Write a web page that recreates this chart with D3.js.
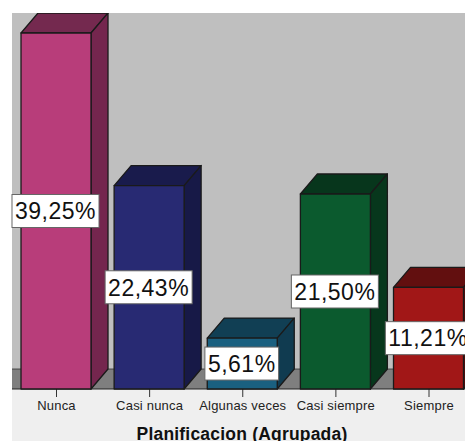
<!DOCTYPE html>
<html><head><meta charset="utf-8">
<script src="https://cdnjs.cloudflare.com/ajax/libs/d3/7.8.5/d3.min.js"></script>
<style>html,body{margin:0;padding:0;background:#fff;overflow:hidden}svg{display:block}text{font-family:"Liberation Sans",Arial,sans-serif}</style>
</head><body><svg id="c" width="465" height="441"></svg>
<script>
const categories = ["Nunca","Casi nunca","Algunas veces","Casi siempre","Siempre"];
const values = [39.25,22.43,5.61,21.50,11.21];
const valueLabels = ["39,25%","22,43%","5,61%","21,50%","11,21%"];
const frontColors = ["#b83d7a","#282a73","#1a6080","#0b5a2e","#a11717"];
const topColors = ["#74294f","#191b4c","#113f54","#07361c","#620f0f"];
const sideColors = ["#74264e","#171947","#103b50","#07371c","#5e0e0e"];
const axisTitle = "Planificacion (Agrupada)";

const W = 465, H = 441, left = 12, top0 = 13, base = 389, dx = 17, dy = 20, barW = 70;
const svg = d3.select("#c");
const x = d3.scalePoint().domain(categories).range([56,428.5]);
const y = d3.scaleLinear().domain([0,39.25]).range([base,33]);

svg.append("rect").attr("x",left).attr("y",top0).attr("width",W-left).attr("height",H-top0).attr("fill","#efefef");
svg.append("rect").attr("x",left).attr("y",top0).attr("width",W-left).attr("height",base-dy-top0).attr("fill","#bfbfbf");
svg.append("rect").attr("x",left).attr("y",base-dy).attr("width",W-left).attr("height",dy).attr("fill","#7f7f7f");
svg.append("line").attr("x1",left).attr("x2",W).attr("y1",base-dy).attr("y2",base-dy).attr("stroke","#333").attr("stroke-width",0.8);
svg.append("line").attr("x1",left).attr("x2",W).attr("y1",base).attr("y2",base).attr("stroke","#222").attr("stroke-width",1.2);

const axis = d3.axisBottom(x).tickSize(8).tickPadding(4);
const ag = svg.append("g").attr("transform",`translate(0,${base})`).call(axis);
ag.select(".domain").remove();
ag.selectAll("line").attr("stroke","#333");
ag.selectAll("text").attr("font-size",13).attr("letter-spacing",0.2).attr("fill","#222").attr("font-family","Liberation Sans, Arial, sans-serif");

svg.append("defs").append("clipPath").attr("id","pl").append("rect").attr("x",left).attr("y",top0).attr("width",W-left).attr("height",base-top0+1);
const g = svg.append("g").attr("clip-path","url(#pl)");
const bars = g.selectAll("g.b").data(categories).join("g").attr("class","b");
const st = {stroke:"#1a1a1a","stroke-width":1.3,"stroke-linejoin":"round"};
function sty(s){Object.entries(st).forEach(([k,v])=>s.attr(k,v));return s;}
bars.each(function(c,i){
  const s = d3.select(this), x0 = x(c)-barW/2, x1 = x0+barW, yt = y(values[i]);
  sty(s.append("path").attr("d",d3.line()([[x0,yt],[x0+dx,yt-dy],[x1+dx,yt-dy],[x1,yt]])+"Z").attr("fill",topColors[i]));
  sty(s.append("path").attr("d",d3.line()([[x1,yt],[x1+dx,yt-dy],[x1+dx,base-dy],[x1,base]])+"Z").attr("fill",sideColors[i]));
  sty(s.append("rect").attr("x",x0).attr("y",yt).attr("width",barW).attr("height",base-yt).attr("fill",frontColors[i]));
});

const lab = svg.append("g");
categories.forEach((c,i)=>{
  const cy = (y(values[i])+base)/2;
  const cx = x(c)-0.5;
  const r = lab.append("rect");
  const t = lab.append("text").attr("x",cx).attr("y",cy).attr("text-anchor","middle").attr("dy","0.36em").attr("font-size",23).attr("letter-spacing",0.5).attr("fill","#111").text(valueLabels[i]);
  const w = t.node().getComputedTextLength();
  r.attr("x",cx-w/2-3).attr("y",cy-16.5).attr("width",w+6).attr("height",33).attr("fill","#fff").attr("stroke","#666").attr("stroke-width",1);
});

svg.append("text").attr("x",242).attr("y",440).attr("text-anchor","middle").attr("font-size",17.5).attr("letter-spacing",0.2).attr("font-weight","bold").attr("fill","#111").text(axisTitle);
</script></body></html>
